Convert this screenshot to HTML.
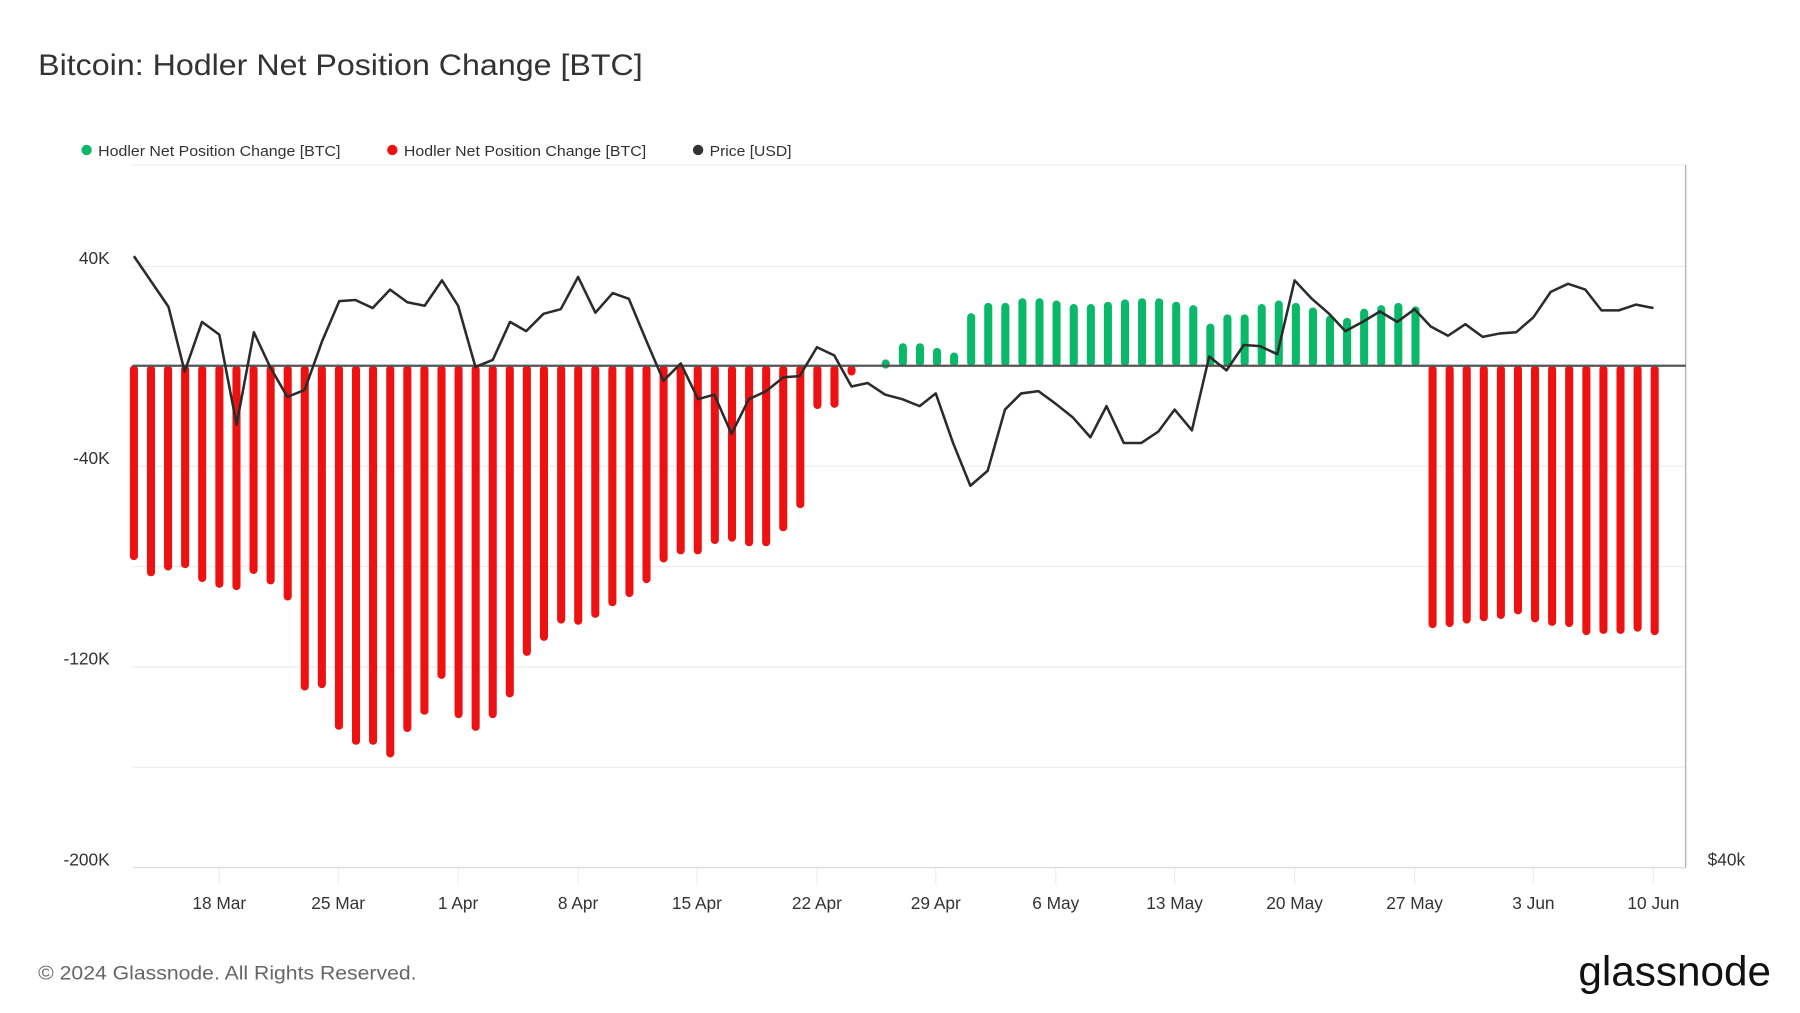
<!DOCTYPE html>
<html><head><meta charset="utf-8"><style>html,body{margin:0;padding:0;background:#fff}svg{display:block}</style></head><body>
<svg width="1800" height="1013" viewBox="0 0 1560 878" xmlns="http://www.w3.org/2000/svg" font-family="Liberation Sans, sans-serif">
<rect width="1560" height="878" fill="#fff"/>
<text x="33" y="65" font-size="26" fill="#333" textLength="524" lengthAdjust="spacingAndGlyphs">Bitcoin: Hodler Net Position Change [BTC]</text>
<g font-size="13" fill="#333">
<circle cx="75" cy="130" r="4.5" fill="#0ab869"/><text x="85" y="135" textLength="210" lengthAdjust="spacingAndGlyphs">Hodler Net Position Change [BTC]</text>
<circle cx="340" cy="130" r="4.5" fill="#ee1111"/><text x="350" y="135" textLength="210" lengthAdjust="spacingAndGlyphs">Hodler Net Position Change [BTC]</text>
<circle cx="605" cy="130" r="4.5" fill="#333"/><text x="615" y="135" textLength="71" lengthAdjust="spacingAndGlyphs">Price [USD]</text>
</g>
<g stroke="#ececec" stroke-width="1">
<line x1="115" x2="1461" y1="143" y2="143"/><line x1="115" x2="1461" y1="231" y2="231"/><line x1="115" x2="1461" y1="404" y2="404"/><line x1="115" x2="1461" y1="491" y2="491"/><line x1="115" x2="1461" y1="578" y2="578"/><line x1="115" x2="1461" y1="665" y2="665"/>
</g>
<line x1="115" x2="1461" y1="752" y2="752" stroke="#ddd"/>
<line x1="1461" x2="1461" y1="143" y2="752" stroke="#aaa"/>
<g font-size="15" fill="#333" text-anchor="end">
<text x="95" y="229">40K</text><text x="95" y="402">-40K</text><text x="95" y="576">-120K</text><text x="95" y="750">-200K</text>
</g>
<text x="1480" y="750" font-size="15" fill="#333">$40k</text>
<g stroke="#eee">
<line x1="190" x2="190" y1="752" y2="767"/><line x1="293" x2="293" y1="752" y2="767"/><line x1="397" x2="397" y1="752" y2="767"/><line x1="501" x2="501" y1="752" y2="767"/><line x1="604" x2="604" y1="752" y2="767"/><line x1="708" x2="708" y1="752" y2="767"/><line x1="811" x2="811" y1="752" y2="767"/><line x1="915" x2="915" y1="752" y2="767"/><line x1="1018" x2="1018" y1="752" y2="767"/><line x1="1122" x2="1122" y1="752" y2="767"/><line x1="1226" x2="1226" y1="752" y2="767"/><line x1="1329" x2="1329" y1="752" y2="767"/><line x1="1433" x2="1433" y1="752" y2="767"/>
</g>
<g font-size="15" fill="#333" text-anchor="middle">
<text x="190" y="788">18 Mar</text><text x="293" y="788">25 Mar</text><text x="397" y="788">1 Apr</text><text x="501" y="788">8 Apr</text><text x="604" y="788">15 Apr</text><text x="708" y="788">22 Apr</text><text x="811" y="788">29 Apr</text><text x="915" y="788">6 May</text><text x="1018" y="788">13 May</text><text x="1122" y="788">20 May</text><text x="1226" y="788">27 May</text><text x="1329" y="788">3 Jun</text><text x="1433" y="788">10 Jun</text>
</g>
<g stroke-linecap="round" stroke-width="7" stroke="#ee1111">
<line x1="116.0" x2="116.0" y1="320" y2="482"/>
<line x1="130.8" x2="130.8" y1="320" y2="496"/>
<line x1="145.6" x2="145.6" y1="320" y2="491"/>
<line x1="160.4" x2="160.4" y1="320" y2="489"/>
<line x1="175.2" x2="175.2" y1="320" y2="501"/>
<line x1="190.1" x2="190.1" y1="320" y2="506"/>
<line x1="204.9" x2="204.9" y1="320" y2="508"/>
<line x1="219.7" x2="219.7" y1="320" y2="494"/>
<line x1="234.5" x2="234.5" y1="320" y2="503"/>
<line x1="249.3" x2="249.3" y1="320" y2="517"/>
<line x1="264.1" x2="264.1" y1="320" y2="595"/>
<line x1="278.9" x2="278.9" y1="320" y2="593"/>
<line x1="293.7" x2="293.7" y1="320" y2="629"/>
<line x1="308.5" x2="308.5" y1="320" y2="642"/>
<line x1="323.3" x2="323.3" y1="320" y2="642"/>
<line x1="338.2" x2="338.2" y1="320" y2="653"/>
<line x1="353.0" x2="353.0" y1="320" y2="631"/>
<line x1="367.8" x2="367.8" y1="320" y2="616"/>
<line x1="382.6" x2="382.6" y1="320" y2="585"/>
<line x1="397.4" x2="397.4" y1="320" y2="619"/>
<line x1="412.2" x2="412.2" y1="320" y2="630"/>
<line x1="427.0" x2="427.0" y1="320" y2="619"/>
<line x1="441.8" x2="441.8" y1="320" y2="601"/>
<line x1="456.6" x2="456.6" y1="320" y2="565"/>
<line x1="471.4" x2="471.4" y1="320" y2="552"/>
<line x1="486.3" x2="486.3" y1="320" y2="537"/>
<line x1="501.1" x2="501.1" y1="320" y2="538"/>
<line x1="515.9" x2="515.9" y1="320" y2="532"/>
<line x1="530.7" x2="530.7" y1="320" y2="522"/>
<line x1="545.5" x2="545.5" y1="320" y2="514"/>
<line x1="560.3" x2="560.3" y1="320" y2="502"/>
<line x1="575.1" x2="575.1" y1="320" y2="484"/>
<line x1="589.9" x2="589.9" y1="320" y2="477"/>
<line x1="604.7" x2="604.7" y1="320" y2="477"/>
<line x1="619.5" x2="619.5" y1="320" y2="468"/>
<line x1="634.4" x2="634.4" y1="320" y2="466"/>
<line x1="649.2" x2="649.2" y1="320" y2="470"/>
<line x1="664.0" x2="664.0" y1="320" y2="470"/>
<line x1="678.8" x2="678.8" y1="320" y2="457"/>
<line x1="693.6" x2="693.6" y1="320" y2="437"/>
<line x1="708.4" x2="708.4" y1="320" y2="351"/>
<line x1="723.2" x2="723.2" y1="320" y2="350"/>
<line x1="738.0" x2="738.0" y1="320" y2="322"/>
<line x1="1241.6" x2="1241.6" y1="320" y2="541"/>
<line x1="1256.4" x2="1256.4" y1="320" y2="540"/>
<line x1="1271.2" x2="1271.2" y1="320" y2="537"/>
<line x1="1286.0" x2="1286.0" y1="320" y2="535"/>
<line x1="1300.8" x2="1300.8" y1="320" y2="533"/>
<line x1="1315.6" x2="1315.6" y1="320" y2="529"/>
<line x1="1330.4" x2="1330.4" y1="320" y2="536"/>
<line x1="1345.2" x2="1345.2" y1="320" y2="539"/>
<line x1="1360.0" x2="1360.0" y1="320" y2="540"/>
<line x1="1374.9" x2="1374.9" y1="320" y2="547"/>
<line x1="1389.7" x2="1389.7" y1="320" y2="546"/>
<line x1="1404.5" x2="1404.5" y1="320" y2="546"/>
<line x1="1419.3" x2="1419.3" y1="320" y2="544"/>
<line x1="1434.1" x2="1434.1" y1="320" y2="547"/>
</g>
<g stroke-linecap="round" stroke-width="7" stroke="#0ab869">
<line x1="767.6" x2="767.6" y1="316" y2="315"/>
<line x1="782.5" x2="782.5" y1="314" y2="301"/>
<line x1="797.3" x2="797.3" y1="314" y2="301"/>
<line x1="812.1" x2="812.1" y1="314" y2="305"/>
<line x1="826.9" x2="826.9" y1="314" y2="309"/>
<line x1="841.7" x2="841.7" y1="314" y2="275"/>
<line x1="856.5" x2="856.5" y1="314" y2="266"/>
<line x1="871.3" x2="871.3" y1="314" y2="266"/>
<line x1="886.1" x2="886.1" y1="314" y2="262"/>
<line x1="900.9" x2="900.9" y1="314" y2="262"/>
<line x1="915.7" x2="915.7" y1="314" y2="264"/>
<line x1="930.6" x2="930.6" y1="314" y2="267"/>
<line x1="945.4" x2="945.4" y1="314" y2="267"/>
<line x1="960.2" x2="960.2" y1="314" y2="265"/>
<line x1="975.0" x2="975.0" y1="314" y2="263"/>
<line x1="989.8" x2="989.8" y1="314" y2="262"/>
<line x1="1004.6" x2="1004.6" y1="314" y2="262"/>
<line x1="1019.4" x2="1019.4" y1="314" y2="265"/>
<line x1="1034.2" x2="1034.2" y1="314" y2="268"/>
<line x1="1049.0" x2="1049.0" y1="314" y2="284"/>
<line x1="1063.8" x2="1063.8" y1="314" y2="276"/>
<line x1="1078.7" x2="1078.7" y1="314" y2="276"/>
<line x1="1093.5" x2="1093.5" y1="314" y2="267"/>
<line x1="1108.3" x2="1108.3" y1="314" y2="264"/>
<line x1="1123.1" x2="1123.1" y1="314" y2="266"/>
<line x1="1137.9" x2="1137.9" y1="314" y2="270"/>
<line x1="1152.7" x2="1152.7" y1="314" y2="277"/>
<line x1="1167.5" x2="1167.5" y1="314" y2="279"/>
<line x1="1182.3" x2="1182.3" y1="314" y2="271"/>
<line x1="1197.1" x2="1197.1" y1="314" y2="268"/>
<line x1="1211.9" x2="1211.9" y1="314" y2="266"/>
<line x1="1226.8" x2="1226.8" y1="314" y2="269"/>
</g>
<line x1="115" x2="1461" y1="317" y2="317" stroke="#555" stroke-width="2"/>
<polyline fill="none" stroke="#2b2b2b" stroke-width="2.2" stroke-linejoin="round" points="116,222 131,244 146,266 160,322 175,279 190,290 205,368 220,288 234,318 249,344 264,338 279,296 294,261 308,260 323,267 338,251 353,262 368,265 383,243 397,265 412,318 427,312 442,279 456,287 471,272 486,268 501,240 516,271 531,254 545,259 560,295 575,330 590,315 605,346 619,342 634,376 649,346 664,339 679,327 693,326 708,301 723,308 738,335 752,332 767,342 782,346 797,352 811,341 826,384 841,421 856,408 871,355 885,341 900,339 915,350 930,362 945,379 959,352 974,384 989,384 1004,374 1018,355 1033,373 1048,309 1063,321 1078,299 1092,300 1107,307 1122,243 1137,259 1152,272 1166,287 1181,279 1196,270 1211,279 1226,268 1240,283 1255,291 1270,281 1285,292 1300,289 1314,288 1329,275 1344,253 1359,246 1374,251 1388,269 1403,269 1418,264 1433,267"/>
<text x="33" y="849" font-size="17" fill="#666" textLength="328" lengthAdjust="spacingAndGlyphs">© 2024 Glassnode. All Rights Reserved.</text>
<text x="1368" y="854" font-size="36" fill="#111" textLength="167" lengthAdjust="spacingAndGlyphs">glassnode</text>
</svg>
</body></html>
